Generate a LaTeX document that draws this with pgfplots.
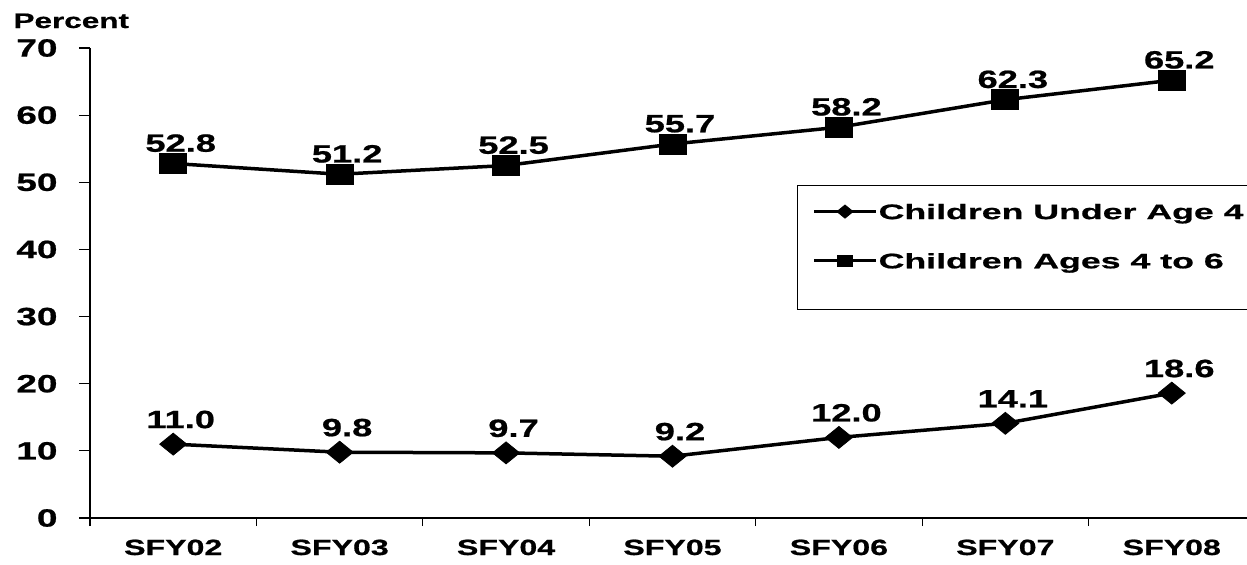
\documentclass[border=0pt]{standalone}
\usepackage{pgfplots}
\pgfplotsset{compat=1.18}
\usepackage{fontspec}
\setmainfont{Liberation Sans}
\newfontfamily\tickfont{Liberation Sans}[FakeStretch=1.48, FakeBold=0.8]
\newfontfamily\datafont{Liberation Sans}[FakeStretch=1.45, FakeBold=0.8]
\newfontfamily\catfont{Liberation Sans}[FakeStretch=1.46, FakeBold=0.8]
\newfontfamily\legfont{Liberation Sans}[FakeStretch=1.7, FakeBold=0.8]
\newfontfamily\pctfont{Liberation Sans}[FakeStretch=1.5, FakeBold=0.8]

\pgfplotsset{
  short legend/.style={legend image code/.code={\draw[yshift=3pt,mark repeat=2,mark phase=2,##1] plot coordinates {(0pt,0pt) (12.4pt,0pt) (24.8pt,0pt)};}},
  tall legend/.style={legend image code/.code={\draw[yshift=3pt,mark repeat=2,mark phase=2,##1] plot coordinates {(0pt,0pt) (12.4pt,0pt) (24.8pt,0pt)}; \path (0pt,-10.7pt);}},
}

\pgfplotstableread{
x y
0 11.0
1 9.8
2 9.7
3 9.2
4 12.0
5 14.1
6 18.6
}\underfour
\pgfplotstableread{
x y
0 52.8
1 51.2
2 52.5
3 55.7
4 58.2
5 62.3
6 65.2
}\fourtosix

\begin{document}
\begin{tikzpicture}
\begin{axis}[
  at={(0pt,0pt)}, anchor=south west,
  scale only axis, width=466pt, height=188pt,
  xmin=-0.5, xmax=6.5, ymin=0, ymax=70,
  clip=false,
  axis lines=left,
  axis line style={-, line width=0.5pt},
  /pgf/number format/assume math mode=true,
  ytick={0,10,...,70},
  tick align=outside,
  major tick length=4.4pt,
  minor tick length=3.2pt,
  tick style={black, line width=0.5pt},
  xtick={0,...,6},
  xticklabels={SFY02,SFY03,SFY04,SFY05,SFY06,SFY07,SFY08},
  major x tick style={draw=none},
  minor xtick={-0.5,0.5,...,5.5},
  yticklabel style={font=\tickfont\bfseries\fontsize{10}{12}\selectfont, anchor=east, inner sep=0pt, xshift=-8.4pt},
  xticklabel style={font=\catfont\bfseries\fontsize{8.8}{10}\selectfont, anchor=base, inner sep=0pt, yshift=-10.4pt},
  ylabel={Percent},
  ylabel style={rotate=-90, at={(axis description cs:0,1)}, anchor=base west, inner sep=0pt,
    xshift=-30.8pt, yshift=8pt, font=\pctfont\bfseries\fontsize{8.4}{10}\selectfont},
  legend style={at={(282.8pt,133.2pt)}, anchor=north west, draw=black, line width=0.5pt,
    font=\legfont\bfseries\fontsize{8.4}{10}\selectfont,
    inner xsep=6pt, inner ysep=5.3pt, row sep=8.1pt,
    cells={anchor=base west},
    nodes={inner xsep=0.5pt}},
]
\addplot[short legend, black, line width=1.4pt, mark=diamond*, mark size=4.4pt,
  mark options={solid, line width=0.3pt, xscale=1.64},
  legend image post style={line width=1.1pt, mark options={solid, line width=0.3pt, scale=0.6, xscale=1.64}},
  nodes near coords={\pgfmathprintnumber[fixed,fixed zerofill,precision=1]{\pgfplotspointmeta}},
  point meta=y,
  nodes near coords style={anchor=base, inner sep=0pt, yshift=6.4pt, xshift=3pt, text=black,
    font=\datafont\bfseries\fontsize{10}{12}\selectfont}]
  table[x=x,y=y] {\underfour};
\addlegendentry{Children Under Age 4}
\addplot[tall legend, black, line width=1.4pt, mark=square*, mark size=4pt,
  mark options={solid, line width=0.3pt, xscale=1.35},
  legend image post style={line width=1.1pt, mark options={solid, line width=0.3pt, scale=0.55, xscale=1.35}},
  nodes near coords={\pgfmathprintnumber[fixed,fixed zerofill,precision=1]{\pgfplotspointmeta}},
  point meta=y,
  nodes near coords style={anchor=base, inner sep=0pt, yshift=4.7pt, xshift=3pt, text=black,
    font=\datafont\bfseries\fontsize{10}{12}\selectfont}]
  table[x=x,y=y] {\fourtosix};
\addlegendentry{Children Ages 4 to 6}
\end{axis}
\pgfresetboundingbox
\path[use as bounding box] (-36pt,-18.4pt) rectangle (462.8pt,207.2pt);
\end{tikzpicture}
\end{document}
